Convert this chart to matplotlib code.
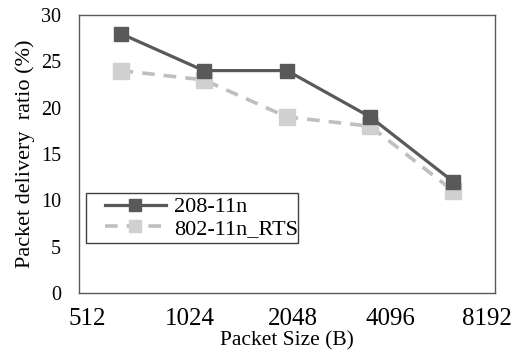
import matplotlib
matplotlib.use("Agg")
import matplotlib.pyplot as plt
from matplotlib.patches import Rectangle

categories = ["512", "1024", "2048", "4096", "8192"]
series_208 = [28, 24, 24, 19, 12]
series_rts = [24, 23, 19, 18, 11]
y_ticks = [0, 5, 10, 15, 20, 25, 30]

plt.rcParams['font.family'] = ['Liberation Serif', 'DejaVu Serif']

fig = plt.figure(figsize=(5.17, 3.6), dpi=100)
ax = fig.add_axes([79/517, 1-293/360, 416/517, 278/360])

x = list(range(len(categories)))
ax.plot(x, series_208, color='#595959', lw=2.3, marker='s', ms=10,
        mfc='#595959', mec='#595959', label='208-11n', zorder=3)
ax.plot(x, series_rts, color='#BFBFBF', lw=2.6, ls=(0, (3.5, 2.5)), marker='s', ms=11,
        mfc='#D0D0D0', mec='#D0D0D0', label='802-11n_RTS', zorder=2)

ax.set_xlim(-0.5, len(categories) - 0.5)
ax.set_ylim(0, 30)
ax.set_yticks(y_ticks)
ax.set_yticklabels([str(v) for v in y_ticks], fontsize=14.5)
fracs = [0.02, 0.267, 0.514, 0.748, 0.981]
ax.set_xticks([-0.5 + f * len(categories) for f in fracs])
ax.set_xticklabels(categories, fontsize=18)
ax.tick_params(axis='both', length=0)
ax.tick_params(axis='y', pad=13)
ax.tick_params(axis='x', pad=11)
for s in ax.spines.values():
    s.set_color('#595959')
    s.set_linewidth(1.0)

ax.set_xlabel('Packet Size (B)', fontsize=15.5, labelpad=1)
ax.set_ylabel('Packet delivery  ratio (%)', fontsize=16, labelpad=4)

# legend frame
ax.add_patch(Rectangle((0.0168, 0.18), 0.509, 0.18, transform=ax.transAxes,
                       fill=True, facecolor='white', edgecolor='#404040', lw=1.0, zorder=4))
leg = ax.legend(loc='center left', bbox_to_anchor=(0.062, 0.27),
                fontsize=16, frameon=False,
                handlelength=2.75, handletextpad=0.35, borderpad=0.0, labelspacing=0.05,
                borderaxespad=0, markerscale=0.85)
leg.set_zorder(5)

fig.savefig('out.png', dpi=100)
